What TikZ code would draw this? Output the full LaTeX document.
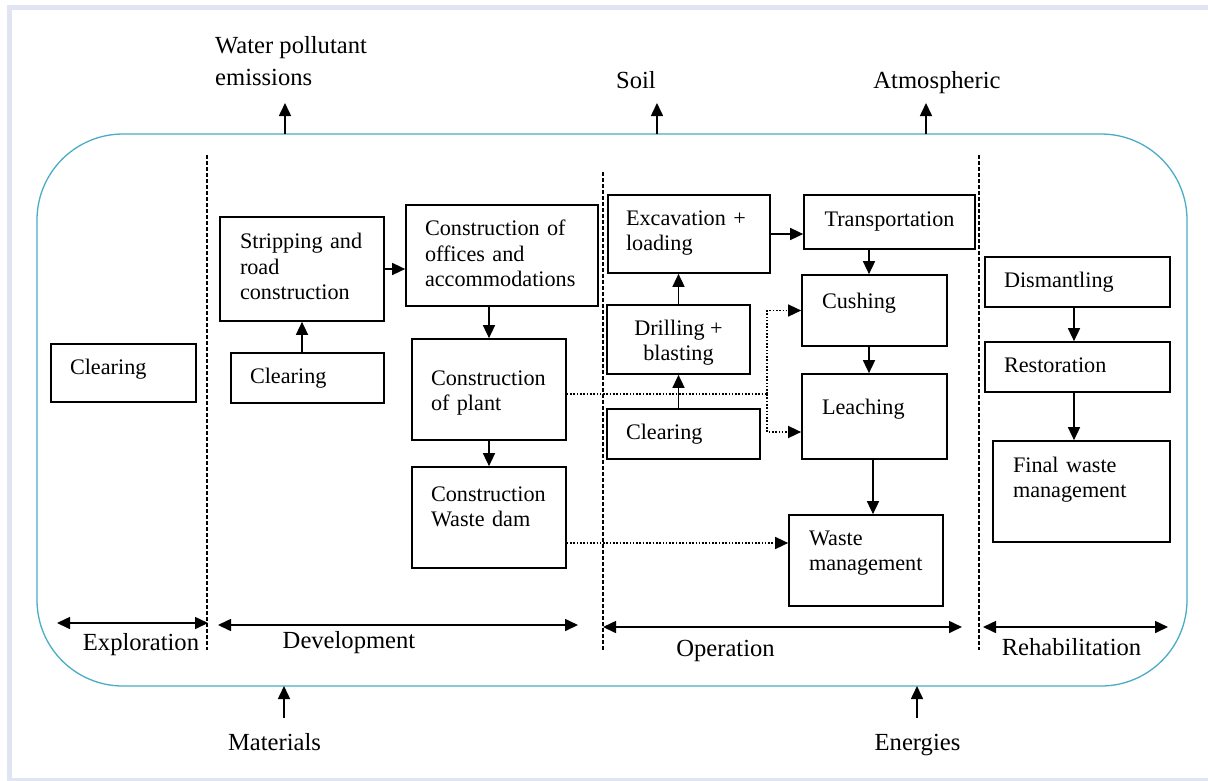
\documentclass[tikz,border=0pt]{standalone}
\usepackage{fontspec}
\setmainfont{Liberation Serif}
\usetikzlibrary{arrows.meta,calc}
\definecolor{frameblue}{HTML}{4BACC6}
\definecolor{lavender}{HTML}{E1E5F2}
\newcommand\txtup[1]{\rule[-#1pt]{0pt}{#1pt}}
\newcommand\txtdn[1]{\rule{0pt}{#1pt}}
\hyphenpenalty=10000
\exhyphenpenalty=10000
\begin{document}
\begin{tikzpicture}[x=1pt,y=-1pt,
  font=\fontsize{22.2}{25.5}\selectfont,
  >={Triangle[length=13pt,width=12pt]},
  box/.style={draw, line width=1.7pt, inner sep=0pt, align=left},
  cbox/.style={draw, line width=1.7pt, inner sep=0pt, align=center},
  arr/.style={line width=1.6pt, ->},
  darr/.style={line width=1.6pt, <->},
  dotln/.style={line width=1.5pt, dash pattern=on 1.6pt off 1.7pt},
  dotarr/.style={dotln, ->},
  phase/.style={line width=1.4pt, dash pattern=on 4pt off 2pt},
  lbl/.style={inner sep=0pt, font=\fontsize{24.6}{28.3}\selectfont},
]
\useasboundingbox (0,0) rectangle (1208,780);
\fill[white] (0,0) rectangle (1208,780);
\begin{scope}
  \clip (0,0) rectangle (1208,780);
  \draw[lavender, line width=5pt] (9.5,7.5) rectangle (1220,780.5);
\end{scope}

% outer frame
\draw[frameblue, line width=1.3pt, rounded corners=86pt] (37,134) rectangle (1187,686);

% phase separators
\coordinate (d1t) at (207,155);
\coordinate (d1b) at (207,650);
\coordinate (d2t) at (603,172);
\coordinate (d2b) at (603,650);
\coordinate (d3t) at (979,155);
\coordinate (d3b) at (979,650);
\draw[phase] (d1t) -- (d1b);
\draw[phase] (d2t) -- (d2b);
\draw[phase] (d3t) -- (d3b);

% boxes
\node[box, minimum width=145, minimum height=58, text width=107] (clr1) at (123.5,373) {Clearing\txtup{12}};
\node[box, minimum width=164, minimum height=104, text width=124] (strip) at (302,269) {Stripping and\\road\\construction\txtup{5}};
\node[box, minimum width=153, minimum height=50, text width=115] (clr2) at (307.5,378) {Clearing\txtup{2}};
\node[box, minimum width=192, minimum height=101, text width=154] (office) at (502,255.5) {Construction of\\offices and\\accommodations\txtup{4}};
\node[box, minimum width=154, minimum height=101, text width=116] (plant) at (489,389.5) {\txtdn{21.5}Construction\\of plant};
\node[box, minimum width=154, minimum height=101, text width=116] (dam) at (489,517.5) {Construction\\Waste dam\txtup{22}};
\node[box, minimum width=162, minimum height=78, text width=126] (exc) at (689,234) {Excavation +\\loading\txtup{7}};
\node[cbox, minimum width=143, minimum height=69] (drill) at (678.5,339.5) {\txtdn{22}Drilling +\\blasting};
\node[box, minimum width=153, minimum height=50, text width=115] (clr3) at (683.5,434) {Clearing};
\node[cbox, minimum width=171, minimum height=54] (trans) at (889.5,222) {Transportation\txtup{6}};
\node[box, minimum width=145, minimum height=71, text width=105] (cush) at (874.5,310.5) {Cushing\txtup{19}};
\node[box, minimum width=145, minimum height=85, text width=105] (leach) at (874.5,416.5) {Leaching\txtup{19}};
\node[box, minimum width=154, minimum height=91, text width=114] (wm) at (866,560.5) {Waste\\management\txtup{20}};
\node[box, minimum width=185, minimum height=50, text width=147] (dism) at (1077.5,282) {Dismantling\txtup{4}};
\node[box, minimum width=185, minimum height=50, text width=147] (rest) at (1077.5,367) {Restoration\txtup{4}};
\node[box, minimum width=177, minimum height=101, text width=137] (final) at (1081.5,491.5) {Final waste\\management\txtup{28}};

% outside labels
\node[lbl, anchor=north west, align=left] (water) at (215,36.3) {Water pollutant\\[3.7pt]emissions};
\node[lbl, anchor=base] (soil) at (636,88) {Soil};
\node[lbl, anchor=base] (atmo) at (937,88) {Atmospheric};
\node[lbl, anchor=base] (mat) at (274.5,750) {Materials};
\node[lbl, anchor=base] (ener) at (917.5,750) {Energies};

% phase labels
\node[lbl, anchor=base] (explo) at (141,650) {Exploration};
\node[lbl, anchor=base] (devel) at (349,648) {Development};
\node[lbl, anchor=base] (oper) at (725.5,656) {Operation};
\node[lbl, anchor=base] (rehab) at (1071.5,655) {Rehabilitation};

% in/out arrows
\coordinate (wa1) at (285,134);
\coordinate (wa2) at (285,103);
\coordinate (sa1) at (657,134);
\coordinate (sa2) at (657,103);
\coordinate (aa1) at (926,134);
\coordinate (aa2) at (926,103);
\coordinate (ma1) at (284,718);
\coordinate (ma2) at (284,686);
\coordinate (ea1) at (917,718);
\coordinate (ea2) at (917,686);
\draw[arr] (wa1) -- (wa2);
\draw[arr] (sa1) -- (sa2);
\draw[arr] (aa1) -- (aa2);
\draw[arr] (ma1) -- (ma2);
\draw[arr] (ea1) -- (ea2);

% phase double arrows
\coordinate (xa) at (57,623);
\coordinate (xb) at (208,623);
\coordinate (va) at (218,625);
\coordinate (vb) at (578,625);
\coordinate (oa) at (603,627);
\coordinate (ob) at (962,627);
\coordinate (ra) at (983,627);
\coordinate (rb) at (1168,627);
\draw[darr] (xa) -- (xb);
\draw[darr] (va) -- (vb);
\draw[darr] (oa) -- (ob);
\draw[darr] (ra) -- (rb);

% process arrows
\draw[arr] (strip.south |- clr2.north) -- (strip.south);
\draw[arr] (strip.east) -- (strip.east -| office.west);
\draw[arr] (plant.north |- office.south) -- (plant.north);
\draw[arr] (plant.south) -- (dam.north);
\draw[arr] (drill.south |- clr3.north) -- (drill.south);
\draw[arr] (drill.north) -- (drill.north |- exc.south);
\draw[arr] (exc.east) -- (exc.east -| trans.west);
\draw[arr] ([xshift=-5.5pt]cush.north |- trans.south) -- ([xshift=-5.5pt]cush.north);
\draw[arr] ([xshift=-5.5pt]cush.south) -- ([xshift=-5.5pt]leach.north);
\draw[arr] ([xshift=-1.5pt]leach.south) -- ([xshift=-1.5pt]leach.south |- wm.north);
\draw[arr] ([xshift=-3.5pt]dism.south) -- ([xshift=-3.5pt]rest.north);
\draw[arr] ([xshift=-3.5pt]rest.south) -- ([xshift=-3.5pt]rest.south |- final.north);

% dotted links
\coordinate (jn) at (767,394);
\draw[dotln] ([yshift=-4.5pt]plant.east) -- (jn);
\draw[dotarr] (jn) |- (cush.west);
\draw[dotarr] (jn) |- ([yshift=-15.5pt]leach.west);
\draw[dotarr] ([yshift=17.5pt]wm.west -| dam.east) -- ([yshift=17.5pt]wm.west);
\end{tikzpicture}
\end{document}
